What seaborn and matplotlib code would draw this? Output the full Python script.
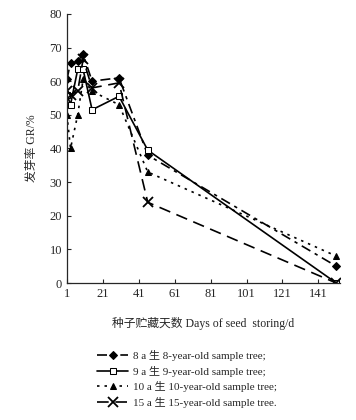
import matplotlib
matplotlib.use('Agg')
from matplotlib import pyplot as plt
import pandas as pd
import seaborn as sns

# data
days = [1, 3, 7, 10, 15, 30, 46, 151]
gr_8a = [60.5, 65.5, 66, 68, 60, 61, 38, 5]
gr_9a = [56, 53, 63.5, 63.5, 51.5, 55.5, 39.5, 0]
gr_10a = [50, 40, 50, 60.5, 57, 53, 33, 8]
gr_15a = [57, 56, 57, 66.5, 58, 59.5, 24, 0]
labels = ['8 a 生 8-year-old sample tree;',
          '9 a 生 9-year-old sample tree;',
          '10 a 生 10-year-old sample tree;',
          '15 a 生 15-year-old sample tree.']
xticks = [1, 21, 41, 61, 81, 101, 121, 141]

sns.set_style('ticks')
plt.rcParams['font.family'] = ['Liberation Serif', 'Noto Sans CJK SC']

df = pd.DataFrame({'day': days * 4,
                   'gr': gr_8a + gr_9a + gr_10a + gr_15a,
                   'tree': sum([[l] * len(days) for l in labels], [])})

f = plt.figure(figsize=(3.56, 4.2), dpi=100)
ax = f.add_axes([0.188, 0.326, 0.767, 0.641])

styles = [dict(marker='D', ls=(0, (6, 3, 2, 3)), mfc='black', ms=4),
          dict(marker='s', ls='-', mfc='white', ms=5),
          dict(marker='^', ls=(0, (1.5, 3)), mfc='black', ms=5),
          dict(marker='x', ls=(0, (7, 4)), mfc='black', ms=7, mew=1.3)]

for lab, st in zip(labels, styles):
    sub = df[df['tree'] == lab]
    sns.lineplot(data=sub, x='day', y='gr', ax=ax, color='black', lw=1.2,
                 mec='black', label=lab, **st)

ax.set_xlim(1, 153)
ax.set_ylim(0, 80)
ax.set_xticks(xticks)
ax.set_yticks(range(0, 81, 10))
ax.tick_params(direction='in', length=3, labelsize=9, width=0.8)
sns.despine(ax=ax)
for s in ['left', 'bottom']:
    ax.spines[s].set_linewidth(0.9)

ax.set_xlabel('种子贮藏天数 Days of seed  storing/d', fontsize=8.5, labelpad=12)
ax.set_ylabel('发芽率 GR/%', fontsize=8.5, labelpad=8)

ax.legend(loc='upper left', bbox_to_anchor=(0.095, -0.233), frameon=False,
          fontsize=8, handlelength=2.8, labelspacing=0.4, handletextpad=0.4,
          borderaxespad=0)

plt.savefig('out.png', dpi=100)
